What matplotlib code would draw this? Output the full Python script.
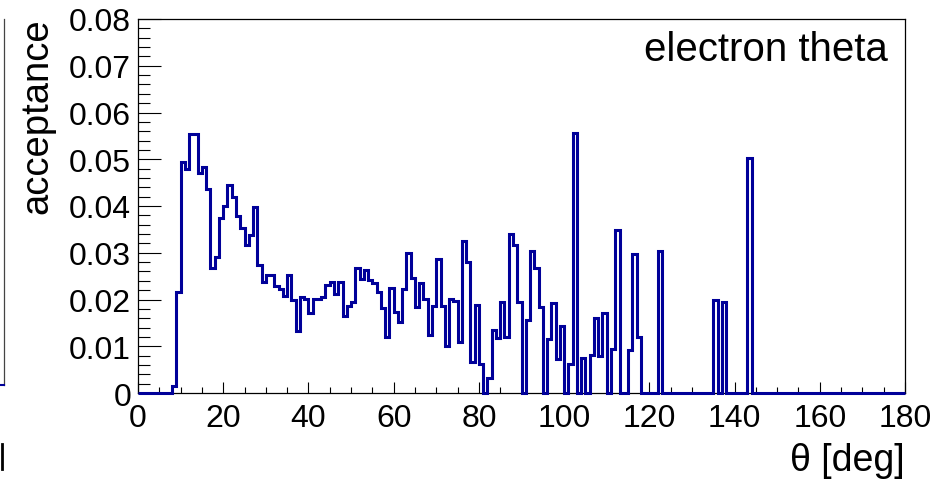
import numpy as np
import matplotlib
matplotlib.use("Agg")
import matplotlib.pyplot as plt
from matplotlib.lines import Line2D
from matplotlib.ticker import MultipleLocator

plt.rcParams['font.family'] = ['Liberation Sans', 'DejaVu Sans']

# 1-degree bins, 0..180
edges = np.arange(0, 181, 1)
acc = np.zeros(180)
acc[8:60] = [
    0.0015, 0.0217, 0.0495, 0.0480, 0.0554, 0.0554, 0.0470, 0.0483, 0.0437, 0.0268,
    0.0290, 0.0375, 0.0401, 0.0444, 0.0420, 0.0378, 0.0354, 0.0317, 0.0338, 0.0397,
    0.0274, 0.0237, 0.0252, 0.0252, 0.0228, 0.0222, 0.0208, 0.0252, 0.0199, 0.0132,
    0.0206, 0.0201, 0.0172, 0.0201, 0.0201, 0.0206, 0.0231, 0.0238, 0.0211, 0.0238,
    0.0165, 0.0187, 0.0195, 0.0267, 0.0244, 0.0263, 0.0242, 0.0235, 0.0215, 0.0181,
    0.0120, 0.0225,
]
acc[60:118] = [
    0.0174, 0.0151, 0.0222, 0.0299, 0.0245, 0.0185, 0.0235, 0.0202, 0.0124, 0.0187,
    0.0286, 0.0187, 0.0101, 0.0202, 0.0197, 0.0110, 0.0325, 0.0281, 0.0067, 0.0188,
    0.0063, 0.0, 0.0033, 0.0135, 0.0118, 0.0195, 0.0120, 0.0340, 0.0317, 0.0195,
    0.0, 0.0156, 0.0304, 0.0267, 0.0185, 0.0, 0.0115, 0.0193, 0.0072, 0.0144,
    0.0, 0.0063, 0.0556, 0.0, 0.0075, 0.0, 0.0081, 0.0160, 0.0080, 0.0172,
    0.0, 0.0095, 0.0349, 0.0, 0.0, 0.0093, 0.0298, 0.0120,
]
acc[122] = 0.0304
acc[135] = 0.0200
acc[137] = 0.0195
acc[143] = 0.0502

W, H = 942, 481
fig = plt.figure(figsize=(W / 100, H / 100), dpi=100)
ax = fig.add_axes([138 / W, 1 - 394 / H, 767 / W, 374 / H])

ax.stairs(acc, edges, color='#000099', linewidth=2.2, zorder=5, clip_on=False)

ax.set_xlim(0, 180)
ax.set_ylim(0, 0.08)
ax.xaxis.set_major_locator(MultipleLocator(20))
ax.xaxis.set_minor_locator(MultipleLocator(5))
ax.yaxis.set_minor_locator(MultipleLocator(0.002))
ax.set_yticks(np.arange(0, 0.081, 0.01))
ax.set_yticklabels(['0', '0.01', '0.02', '0.03', '0.04', '0.05', '0.06', '0.07', '0.08'])

ax.tick_params(axis='x', which='major', direction='in', length=8, width=0.8,
               labelsize=23, pad=7)
ax.tick_params(axis='x', which='minor', direction='in', length=4, width=0.8)
ax.tick_params(axis='y', which='major', direction='in', length=16.5, width=0.8,
               labelsize=23, pad=5)
ax.tick_params(axis='y', which='minor', direction='in', length=8.3, width=0.8)
for s in ax.spines.values():
    s.set_linewidth(0.9)

ax.text(888 / W, 1 - 50 / H, 'electron theta', transform=fig.transFigure,
        ha='right', va='center', fontsize=29)
fig.text(905 / W, 1 - 461 / H, 'θ [deg]', ha='right', va='center', fontsize=27)
fig.text(37 / W, 1 - 18 / H, 'acceptance', rotation=90, ha='center', va='top',
         fontsize=27.5)

# edge of the neighbouring panel
fig.add_artist(Line2D([3.5 / W, 3.5 / W], [1 - 386 / H, 1 - 20 / H],
                      color='#444444', lw=0.9))
fig.add_artist(Line2D([0, 3.5 / W], [1 - 386 / H, 1 - 386 / H],
                      color='#000099', lw=1.5))
fig.add_artist(Line2D([1.5 / W, 1.5 / W], [1 - 470 / H, 1 - 445 / H],
                      color='black', lw=2))

fig.savefig('out.png', dpi=100)
